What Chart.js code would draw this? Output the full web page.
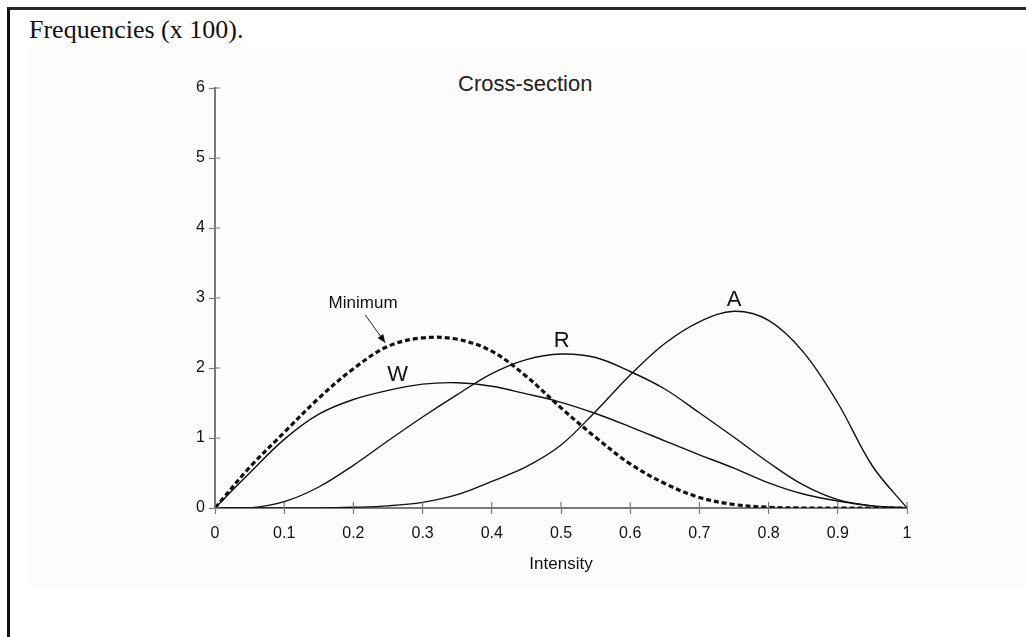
<!DOCTYPE html>
<html>
<head>
<meta charset="utf-8">
<script src="https://cdn.jsdelivr.net/npm/chart.js@4"></script>
<style>
  html, body { margin: 0; padding: 0; background: #fff; }
  body { width: 1026px; height: 637px; position: relative; overflow: hidden; }
  #frame { position: absolute; left: 7px; top: 7px; width: 1100px; height: 700px;
           border-top: 3px solid #2a2a2a; border-left: 3px solid #111; }
  #panel { position: absolute; left: 28px; top: 47px; width: 998px; height: 540px; background: #fcfcfc; }
  #caption { position: absolute; left: 29px; top: 15px; font-family: "Liberation Serif", "Times New Roman", serif;
             font-size: 26px; color: #111; white-space: nowrap; }
  #heading { position: absolute; left: 458px; top: 71px; font-family: "Liberation Sans", Arial, sans-serif;
             font-size: 22px; color: #222; white-space: nowrap; }
  #chart { position: absolute; left: 0; top: 0; }
</style>
</head>
<body>
<div id="frame"></div>
<div id="panel"></div>
<div id="caption">Frequencies (x 100).</div>
<div id="heading">Cross-section</div>
<canvas id="chart" width="1026" height="637"></canvas>
<script>
// intensity grid (x values)
const intensity = [0, 0.05, 0.1, 0.15, 0.2, 0.25, 0.3, 0.35, 0.4, 0.45, 0.5,
                   0.55, 0.6, 0.65, 0.7, 0.75, 0.8, 0.85, 0.9, 0.95, 1];

// frequencies (x 100)
const minimumValues = [0, 0.58, 1.08, 1.57, 1.99, 2.31, 2.43, 2.41, 2.24, 1.88, 1.43,
                       1.01, 0.63, 0.35, 0.15, 0.05, 0.01, 0, 0, 0, 0];
const wValues = [0, 0.5, 0.98, 1.34, 1.55, 1.68, 1.77, 1.79, 1.74, 1.63, 1.51,
                 1.35, 1.16, 0.96, 0.76, 0.57, 0.36, 0.2, 0.1, 0.03, 0];
const rValues = [0, 0, 0.09, 0.3, 0.61, 0.96, 1.3, 1.62, 1.92, 2.12, 2.2,
                 2.15, 1.95, 1.7, 1.36, 1.01, 0.65, 0.33, 0.12, 0.03, 0];
const aValues = [0, 0, 0, 0, 0.01, 0.03, 0.08, 0.19, 0.38, 0.59, 0.9,
                 1.38, 1.9, 2.35, 2.66, 2.81, 2.68, 2.23, 1.5, 0.6, 0];

const xTicks = [0, 0.1, 0.2, 0.3, 0.4, 0.5, 0.6, 0.7, 0.8, 0.9, 1];
const yTicks = [0, 1, 2, 3, 4, 5, 6];

// curve labels, placed in data units
const curveLabels = [
    { text: 'W', x: 0.264, y: 1.9 },
    { text: 'R', x: 0.501, y: 2.39 },
    { text: 'A', x: 0.75, y: 2.97 }
];

function toPoints(values) {
    return values.map((v, i) => ({ x: intensity[i], y: v }));
}

const axisGrey = '#7a7a7a';
const tickFont = { family: '"Liberation Sans", Arial, sans-serif', size: 16 };

// draws the inner half of the tick marks, the curve letters and the "Minimum" pointer
const annotate = {
    id: 'annotate',
    afterDatasetsDraw(chart) {
        const ctx = chart.ctx;
        const xs = chart.scales.x;
        const ys = chart.scales.y;
        const area = chart.chartArea;

        ctx.save();
        ctx.strokeStyle = axisGrey;
        ctx.lineWidth = 1.2;
        ctx.beginPath();
        xTicks.forEach(t => {
            const px = xs.getPixelForValue(t);
            ctx.moveTo(px, area.bottom);
            ctx.lineTo(px, area.bottom - 6);
        });
        yTicks.forEach(t => {
            const py = ys.getPixelForValue(t);
            ctx.moveTo(area.left, py);
            ctx.lineTo(area.left + 5, py);
        });
        ctx.stroke();

        ctx.fillStyle = '#111';
        ctx.textAlign = 'center';
        ctx.textBaseline = 'middle';
        ctx.font = '22px "Liberation Sans", Arial, sans-serif';
        curveLabels.forEach(l => {
            ctx.fillText(l.text, xs.getPixelForValue(l.x), ys.getPixelForValue(l.y));
        });

        ctx.font = '17px "Liberation Sans", Arial, sans-serif';
        ctx.fillText('Minimum', xs.getPixelForValue(0.214), ys.getPixelForValue(2.93));

        // pointer arrow
        const x1 = xs.getPixelForValue(0.217), y1 = ys.getPixelForValue(2.76);
        const x2 = xs.getPixelForValue(0.246), y2 = ys.getPixelForValue(2.36);
        ctx.strokeStyle = '#222';
        ctx.lineWidth = 1;
        ctx.beginPath();
        ctx.moveTo(x1, y1);
        ctx.lineTo(x2, y2);
        ctx.stroke();
        const ang = Math.atan2(y2 - y1, x2 - x1);
        ctx.fillStyle = '#111';
        ctx.beginPath();
        ctx.moveTo(x2, y2);
        ctx.lineTo(x2 - 9 * Math.cos(ang - 0.4), y2 - 9 * Math.sin(ang - 0.4));
        ctx.lineTo(x2 - 9 * Math.cos(ang + 0.4), y2 - 9 * Math.sin(ang + 0.4));
        ctx.closePath();
        ctx.fill();
        ctx.restore();
    }
};

const solid = { borderColor: '#111', borderWidth: 1.4, pointRadius: 0, fill: false, tension: 0.35 };

new Chart(document.getElementById('chart'), {
    type: 'line',
    data: {
        datasets: [
            { label: 'Minimum', data: toPoints(minimumValues), borderColor: '#111', borderWidth: 3.2,
              borderDash: [5, 3], pointRadius: 0, fill: false, tension: 0.35 },
            Object.assign({ label: 'W', data: toPoints(wValues) }, solid),
            Object.assign({ label: 'R', data: toPoints(rValues) }, solid),
            Object.assign({ label: 'A', data: toPoints(aValues) }, solid)
        ]
    },
    options: {
        responsive: false,
        animation: false,
        layout: { padding: { top: 88, right: 119, left: 0, bottom: 49 } },
        plugins: { legend: { display: false }, tooltip: { enabled: false } },
        scales: {
            x: {
                type: 'linear',
                min: 0,
                max: 1,
                afterFit: s => { s.height = 80; },
                afterBuildTicks: s => { s.ticks = xTicks.map(v => ({ value: v })); },
                ticks: {
                    color: '#111',
                    padding: 10,
                    font: tickFont,
                    callback: v => String(+Number(v).toFixed(1))
                },
                grid: { drawOnChartArea: false, tickLength: 6, tickColor: axisGrey, tickWidth: 1.2 },
                border: { color: axisGrey, width: 2 },
                title: {
                    display: true,
                    text: 'Intensity',
                    color: '#111',
                    padding: { top: 4, bottom: 13 },
                    font: { family: '"Liberation Sans", Arial, sans-serif', size: 17 }
                }
            },
            y: {
                type: 'linear',
                min: 0,
                max: 6,
                afterFit: s => { s.width = 215; },
                afterBuildTicks: s => { s.ticks = yTicks.map(v => ({ value: v })); },
                ticks: {
                    color: '#111',
                    padding: 4,
                    font: tickFont,
                    callback: v => String(v)
                },
                grid: { drawOnChartArea: false, tickLength: 6, tickColor: axisGrey, tickWidth: 1.2 },
                border: { color: axisGrey, width: 2 }
            }
        }
    },
    plugins: [annotate]
});
</script>
</body>
</html>
